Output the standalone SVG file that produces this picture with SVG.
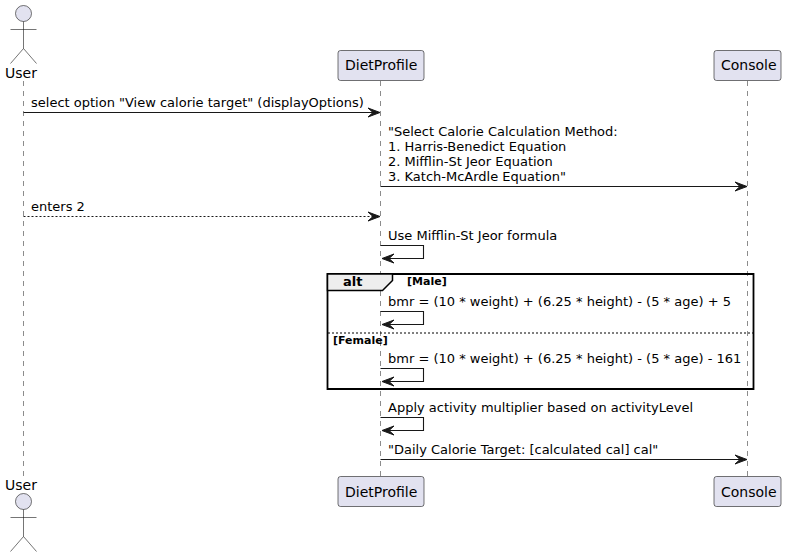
<svg xmlns="http://www.w3.org/2000/svg" width="788" height="557" viewBox="0 0 788 557">
<style>
text{font-family:"DejaVu Sans",sans-serif;fill:#000}
.m{font-size:13px}
.p{font-size:14px}
.b{font-size:11px;font-weight:bold}
.life{stroke:#181818;stroke-width:.5;stroke-dasharray:5 5;fill:none}
.box{fill:#E2E2F0;stroke:#181818;stroke-width:.6}
.act{fill:none;stroke:#181818;stroke-width:.6}
.msg{stroke:#181818;stroke-width:1.1;fill:none}
.ah{fill:#181818;stroke:#181818;stroke-width:1}
</style>
<rect width="788" height="557" fill="#fff"/>
<g id="lifelines">
<line class="life" x1="23.5" y1="81" x2="23.5" y2="476"/>
<line class="life" x1="380.5" y1="81" x2="380.5" y2="476"/>
<line class="life" x1="747.5" y1="81" x2="747.5" y2="476"/>
</g>
<g id="alt-frame">
<path d="M327.500 274H753.500V389H327.500Z" fill="none" stroke="#000" stroke-width="1.800"/>
<path d="M327.500 274H392.500V280.500L382.500 290.500H327.500Z" fill="#EEEEEE" stroke="#000" stroke-width="1.500"/>
<text x="343" y="286" font-size="13" font-weight="bold" style="font-family:'DejaVu Sans',sans-serif">alt</text>
<text class="b" x="407" y="285">[Male]</text>
<line x1="328" y1="333" x2="753" y2="333" stroke="#000" stroke-width="1" stroke-dasharray="2 2"/>
<text class="b" x="333" y="344">[Female]</text>
</g>
<g id="connectors">
<path class="msg" d="M23.500 112.500H376"/><path class="ah" d="M368 108L380 112.500L368 117L373 112.500Z"/>
<path class="msg" d="M380.500 186.500H743"/><path class="ah" d="M735 182L747 186.500L735 191L740 186.500Z"/>
<path class="msg" d="M23.500 216.500H376" stroke-dasharray="2 2"/><path class="ah" d="M368 212L380 216.500L368 221L373 216.500Z"/>
<path class="msg" d="M380.500 245.500H423.500V258.500H386"/><path class="ah" d="M394 254L382 258.500L394 263L389 258.500Z"/>
<path class="msg" d="M380.500 311.500H423.500V324.500H386"/><path class="ah" d="M394 320L382 324.500L394 329L389 324.500Z"/>
<path class="msg" d="M380.500 368.500H423.500V381.500H386"/><path class="ah" d="M394 377L382 381.500L394 386L389 381.500Z"/>
<path class="msg" d="M380.500 417.500H423.500V430.500H386"/><path class="ah" d="M394 426L382 430.500L394 435L389 430.500Z"/>
<path class="msg" d="M380.500 459.500H743"/><path class="ah" d="M735 455L747 459.500L735 464L740 459.500Z"/>
</g>
<g id="labels">
<text class="m" x="31" y="107">select option "View calorie target" (displayOptions)</text>
<text class="m" x="388" y="136">"Select Calorie Calculation Method:</text>
<text class="m" x="388" y="151">1. Harris-Benedict Equation</text>
<text class="m" x="388" y="166">2. Mifflin-St Jeor Equation</text>
<text class="m" x="388" y="181">3. Katch-McArdle Equation"</text>
<text class="m" x="31" y="211">enters 2</text>
<text class="m" x="388" y="240">Use Mifflin-St Jeor formula</text>
<text class="m" x="388" y="306">bmr = (10 * weight) + (6.25 * height) - (5 * age) + 5</text>
<text class="m" x="388" y="363">bmr = (10 * weight) + (6.25 * height) - (5 * age) - 161</text>
<text class="m" x="388" y="412">Apply activity multiplier based on activityLevel</text>
<text class="m" x="388" y="454">"Daily Calorie Target: [calculated cal] cal"</text>
</g>
<g id="actor-user-top">
<circle class="box" cx="23.500" cy="13.500" r="8"/>
<path class="act" d="M23.500 21.500V48.500M10.500 29.500H36.500M23.500 48.500L10.500 63.500M23.500 48.500L36.500 63.500"/>
<text class="p" x="5" y="78">User</text>
</g>
<g id="node-dietprofile-top">
<rect class="box" x="338" y="50.500" width="86" height="30" rx="2.500"/>
<text class="p" x="345" y="70">DietProfile</text>
</g>
<g id="node-console-top">
<rect class="box" x="714" y="50.500" width="67" height="30" rx="2.500"/>
<text class="p" x="721" y="70">Console</text>
</g>
<g id="actor-user-bottom">
<text class="p" x="5" y="490">User</text>
<circle class="box" cx="23.500" cy="501.500" r="8"/>
<path class="act" d="M23.500 509.500V536.500M10.500 517.500H36.500M23.500 536.500L10.500 551.500M23.500 536.500L36.500 551.500"/>
</g>
<g id="node-dietprofile-bottom">
<rect class="box" x="338" y="476.500" width="86" height="30" rx="2.500"/>
<text class="p" x="345" y="497">DietProfile</text>
</g>
<g id="node-console-bottom">
<rect class="box" x="714" y="476.500" width="67" height="30" rx="2.500"/>
<text class="p" x="721" y="497">Console</text>
</g>
</svg>
